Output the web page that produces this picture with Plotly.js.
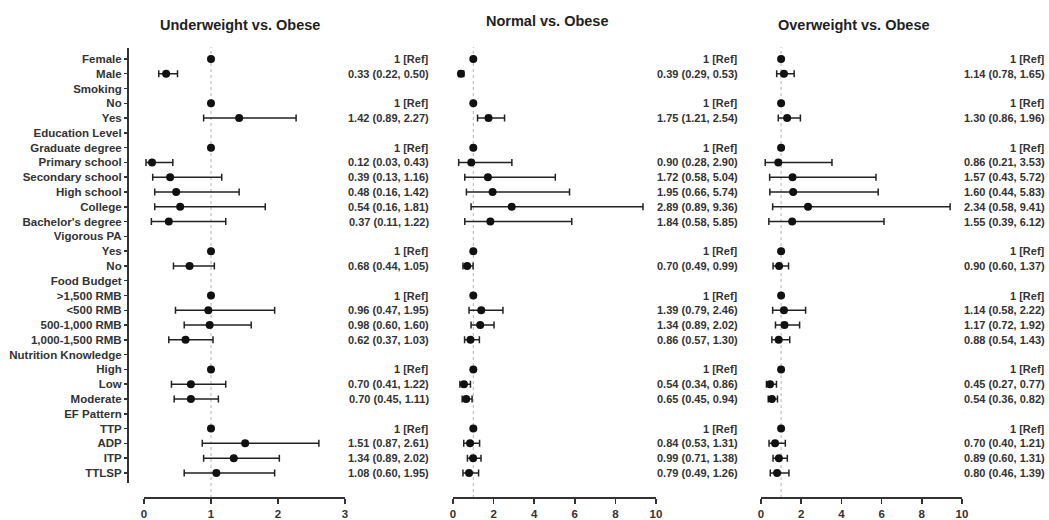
<!DOCTYPE html>
<html><head><meta charset="utf-8">
<script src="https://cdn.plot.ly/plotly-3.0.1.min.js"></script>
<style>html,body{margin:0;padding:0;background:#fff}</style>
</head><body><div id="chart" style="width:1049px;height:520px"></div>
<script>
const labels = ["Female","Male","Smoking","No","Yes","Education Level","Graduate degree","Primary school","Secondary school","High school","College","Bachelor's degree","Vigorous PA","Yes","No","Food Budget",">1,500 RMB","<500 RMB","500-1,000 RMB","1,000-1,500 RMB","Nutrition Knowledge","High","Low","Moderate","EF Pattern","TTP","ADP","ITP","TTLSP"];
// 1 = reference category, null = group header
const isRef = [1,0,null,1,0,null,1,0,0,0,0,0,null,1,0,null,1,0,0,0,null,1,0,0,null,1,0,0,0];

const uwOR = [1,0.33,null,1,1.42,null,1,0.12,0.39,0.48,0.54,0.37,null,1,0.68,null,1,0.96,0.98,0.62,null,1,0.70,0.70,null,1,1.51,1.34,1.08];
const uwLo = [null,0.22,null,null,0.89,null,null,0.03,0.13,0.16,0.16,0.11,null,null,0.44,null,null,0.47,0.60,0.37,null,null,0.41,0.45,null,null,0.87,0.89,0.60];
const uwHi = [null,0.50,null,null,2.27,null,null,0.43,1.16,1.42,1.81,1.22,null,null,1.05,null,null,1.95,1.60,1.03,null,null,1.22,1.11,null,null,2.61,2.02,1.95];

const nwOR = [1,0.39,null,1,1.75,null,1,0.90,1.72,1.95,2.89,1.84,null,1,0.70,null,1,1.39,1.34,0.86,null,1,0.54,0.65,null,1,0.84,0.99,0.79];
const nwLo = [null,0.29,null,null,1.21,null,null,0.28,0.58,0.66,0.89,0.58,null,null,0.49,null,null,0.79,0.89,0.57,null,null,0.34,0.45,null,null,0.53,0.71,0.49];
const nwHi = [null,0.53,null,null,2.54,null,null,2.90,5.04,5.74,9.36,5.85,null,null,0.99,null,null,2.46,2.02,1.30,null,null,0.86,0.94,null,null,1.31,1.38,1.26];

const owOR = [1,1.14,null,1,1.30,null,1,0.86,1.57,1.60,2.34,1.55,null,1,0.90,null,1,1.14,1.17,0.88,null,1,0.45,0.54,null,1,0.70,0.89,0.80];
const owLo = [null,0.78,null,null,0.86,null,null,0.21,0.43,0.44,0.58,0.39,null,null,0.60,null,null,0.58,0.72,0.54,null,null,0.27,0.36,null,null,0.40,0.60,0.46];
const owHi = [null,1.65,null,null,1.96,null,null,3.53,5.72,5.83,9.41,6.12,null,null,1.37,null,null,2.22,1.92,1.43,null,null,0.77,0.82,null,null,1.21,1.31,1.39];

const panelTitles = ["Underweight vs. Obese","Normal vs. Obese","Overweight vs. Obese"];

const W = 1049, H = 520;
const px = v => v / W, py = v => 1 - v / H;
const FONT = "Liberation Sans, Arial, sans-serif";
const TXT = "#333333";

const panels = [
  {or: uwOR, lo: uwLo, hi: uwHi, xa: "x", dom: [144, 345], range: [0, 3], dtick: 1, textX: 431, titleX: 240},
  {or: nwOR, lo: nwLo, hi: nwHi, xa: "x2", dom: [453, 656], range: [0, 10], dtick: 2, textX: 740, titleX: 547},
  {or: owOR, lo: owLo, hi: owHi, xa: "x3", dom: [761, 962], range: [0, 10], dtick: 2, textX: 1047, titleX: 854}
];

const traces = [];
const annotations = [];
const shapes = [];
const layout = {
  width: W, height: H, margin: {l: 0, r: 0, t: 0, b: 0},
  paper_bgcolor: "#fff", plot_bgcolor: "rgba(0,0,0,0)", showlegend: false,
  font: {family: FONT, color: TXT, size: 11.5, weight: 700},
  yaxis: {
    domain: [py(483), py(48)], anchor: "free", position: px(128),
    range: [28.68, -0.74], tickmode: "array",
    tickvals: labels.map((_, i) => i), ticktext: labels,
    showline: false,
    ticks: "outside", ticklen: 4, tickwidth: 1.5, tickcolor: "#333",
    showgrid: false, zeroline: false,
    tickfont: {family: FONT, size: 11.5, color: TXT, weight: 700}
  }
};
// y axis line (offset, Prism style)
shapes.push({type: "line", xref: "paper", yref: "paper", x0: px(128), x1: px(128), y0: py(483), y1: py(48),
  line: {color: "#333", width: 2}});

panels.forEach((p, k) => {
  const xs = [], ys = [], ep = [], em = [];
  p.or.forEach((v, i) => {
    if (v === null) return;
    xs.push(v); ys.push(i);
    ep.push(p.hi[i] === null ? null : +(p.hi[i] - v).toFixed(4));
    em.push(p.lo[i] === null ? null : +(v - p.lo[i]).toFixed(4));
    const t = isRef[i] ? "1 [Ref]" : v.toFixed(2) + " (" + p.lo[i].toFixed(2) + ", " + p.hi[i].toFixed(2) + ")";
    annotations.push({xref: "paper", yref: "y", x: px(p.textX), y: i, text: t, showarrow: false,
      xanchor: "right", yanchor: "middle", font: {family: FONT, size: 11, color: TXT, weight: 700}});
  });
  traces.push({
    type: "scatter", mode: "markers", x: xs, y: ys, xaxis: p.xa, yaxis: "y",
    marker: {color: "#111", size: 8},
    error_x: {type: "data", symmetric: false, array: ep, arrayminus: em, color: "#222", thickness: 1.5, width: 3.5},
    hoverinfo: "skip", cliponaxis: false
  });
  const axName = p.xa === "x" ? "xaxis" : "xaxis" + p.xa.slice(1);
  layout[axName] = {
    domain: [px(p.dom[0]), px(p.dom[1])], anchor: "free", position: py(498),
    range: p.range, dtick: p.dtick, tick0: 0,
    showline: true, linecolor: "#333", linewidth: 2,
    ticks: "outside", ticklen: 5, tickwidth: 1.5, tickcolor: "#333",
    showgrid: false, zeroline: false,
    tickfont: {family: FONT, size: 11.5, color: TXT, weight: 700}
  };
  shapes.push({type: "line", xref: p.xa, yref: "paper", x0: 1, x1: 1, y0: py(498), y1: py(47),
    line: {color: "#b5b5b5", width: 1, dash: "dot"}, layer: "below"});
  annotations.push({xref: "paper", yref: "paper", x: px(p.titleX), y: py(k === 1 ? 21 : 25), text: panelTitles[k],
    showarrow: false, xanchor: "center", yanchor: "middle", font: {family: FONT, size: 14.5, color: "#222", weight: 700}});
});

layout.annotations = annotations;
layout.shapes = shapes;
Plotly.newPlot("chart", traces, layout, {staticPlot: true, displayModeBar: false});
</script>
</body></html>
